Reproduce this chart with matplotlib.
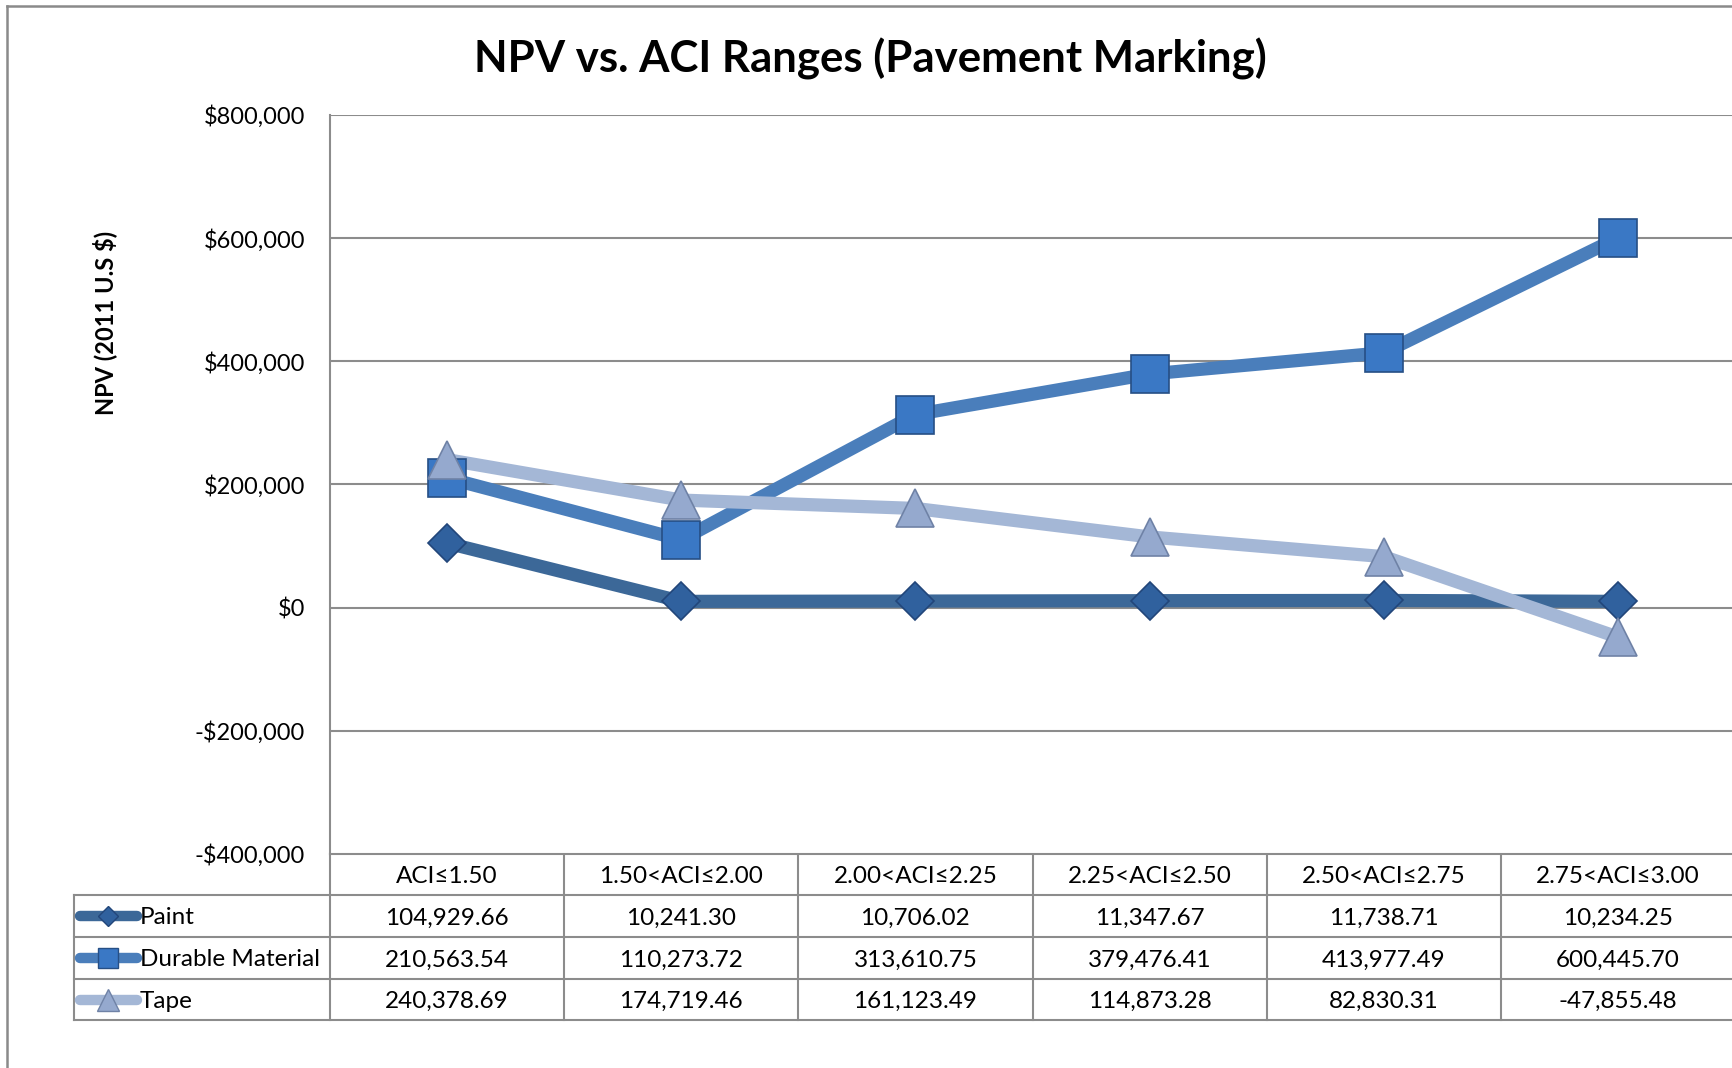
import numpy as np
import matplotlib.pyplot as plt

categories = ["ACI≤1.50", "1.50<ACI≤2.00", "2.00<ACI≤2.25",
              "2.25<ACI≤2.50", "2.50<ACI≤2.75", "2.75<ACI≤3.00"]
paint = [104929.66, 10241.30, 10706.02, 11347.67, 11738.71, 10234.25]
durable = [210563.54, 110273.72, 313610.75, 379476.41, 413977.49, 600445.70]
tape = [240378.69, 174719.46, 161123.49, 114873.28, 82830.31, -47855.48]
series_names = ["Paint", "Durable Material", "Tape"]
y_ticks = [-400000, -200000, 0, 200000, 400000, 600000, 800000]

plt.rcParams['font.family'] = ['Lato', 'DejaVu Sans']

W, H = 1732, 1068
fig = plt.figure(figsize=(W / 100, H / 100), dpi=100)

# layout (pixels)
plot_l, plot_r = 330, 1735
plot_t, plot_b = 115, 854
row_edges = [854, 895, 937, 979, 1020]
table_l = 74
grid_col = '#8c8c8c'
fs = 17.5

styles = [
    dict(color='#3C6898', marker='D', ms=19, mfc='#30619E', mec='#22467A'),
    dict(color='#4A7EBB', marker='s', ms=27, mfc='#3A78C5', mec='#264F85'),
    dict(color='#A4B7D6', marker='^', ms=28, mfc='#95A9CE', mec='#6F82A6'),
]
data = [paint, durable, tape]

ax = fig.add_axes([plot_l / W, 1 - plot_b / H, (plot_r - plot_l) / W, (plot_b - plot_t) / H])
x = np.arange(len(categories))
for vals, st in zip(data, styles):
    ax.plot(x, vals, color=st['color'], lw=9.5, solid_capstyle='butt', zorder=2)
for vals, st in zip(data, styles):
    ax.plot(x, vals, ls='none', marker=st['marker'], ms=st['ms'],
            mfc=st['mfc'], mec=st['mec'], mew=1.2, zorder=3)

ax.set_xlim(-0.5, len(categories) - 0.5)
ax.set_ylim(y_ticks[0], y_ticks[-1])
ax.set_yticks(y_ticks)
ax.set_yticklabels([f"-${-v:,.0f}" if v < 0 else f"${v:,.0f}" for v in y_ticks], fontsize=17)
ax.tick_params(axis='y', length=0, pad=18)
ax.set_xticks([])
ax.grid(axis='y', color=grid_col, lw=1.5)
ax.set_axisbelow(True)
for s in ['top', 'right', 'bottom']:
    ax.spines[s].set_visible(False)
ax.spines['left'].set_color(grid_col)
ax.spines['left'].set_linewidth(1.5)

# overlay in pixel coords for the data table, title, labels and border
ov = fig.add_axes([0, 0, 1, 1], zorder=-1)
ov.set_xlim(0, W)
ov.set_ylim(H, 0)
ov.axis('off')
ov.patch.set_alpha(0)

ov.plot([7, 7], [6, H + 5], color='#8a8a8a', lw=1.8)
ov.plot([7, W + 5], [6, 6], color='#8a8a8a', lw=1.8)

ov.text(870, 59, "NPV vs. ACI Ranges (Pavement Marking)", fontsize=31.5,
        fontweight='bold', ha='center', va='center')
ov.text(105, 323, "NPV (2011 U.S $)", fontsize=17, fontweight='bold',
        rotation=90, ha='center', va='center')

col_w = (plot_r - plot_l) / len(categories)
# table lines
ov.plot([plot_l, plot_r], [row_edges[0]] * 2, color=grid_col, lw=1.5)
for y in row_edges[1:]:
    ov.plot([table_l, plot_r], [y, y], color=grid_col, lw=1.5)
ov.plot([table_l, table_l], [row_edges[1], row_edges[-1]], color=grid_col, lw=1.5)
for i in range(len(categories) + 1):
    xx = plot_l + i * col_w
    ov.plot([xx, xx], [row_edges[0], row_edges[-1]], color=grid_col, lw=1.5)

def row_mid(r):
    return (row_edges[r] + row_edges[r + 1]) / 2 + 2

for i, cat in enumerate(categories):
    ov.text(plot_l + (i + 0.5) * col_w, row_mid(0), cat, fontsize=fs,
            ha='center', va='center')

for r, (name, vals, st) in enumerate(zip(series_names, data, styles)):
    ym = row_mid(r + 1)
    ov.plot([80, 137], [ym - 2, ym - 2], color=st['color'], lw=7.5, solid_capstyle='round')
    ov.plot([108], [ym - 2], ls='none', marker=st['marker'], ms=st['ms'] * 0.55,
            mfc=st['mfc'], mec=st['mec'], mew=1)
    ov.text(140, ym, name, fontsize=fs, ha='left', va='center')
    for i, v in enumerate(vals):
        ov.text(plot_l + (i + 0.5) * col_w, ym, f"{v:,.2f}", fontsize=fs,
                ha='center', va='center')

fig.savefig("out.png", dpi=100)
